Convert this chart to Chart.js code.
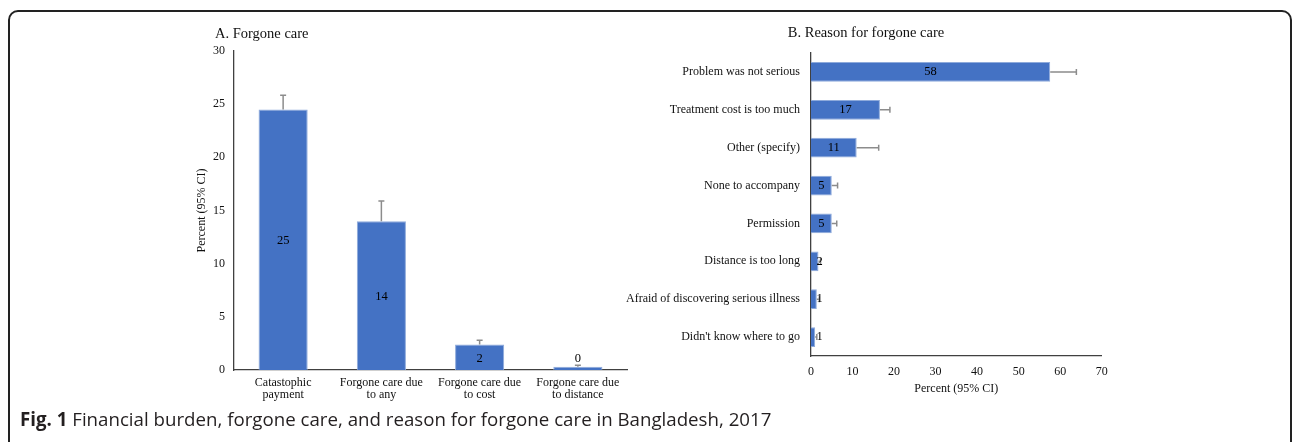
<!DOCTYPE html>
<html><head><meta charset="utf-8">
<script src="https://cdn.jsdelivr.net/npm/chart.js@4.4.1/dist/chart.umd.min.js"></script>
<style>
html,body{margin:0;padding:0;background:#fff;width:1292px;height:442px;overflow:hidden;position:relative}
#frame{position:absolute;left:8px;top:10px;width:1284px;height:480px;border:2px solid #222;border-radius:10px;box-sizing:border-box}
#ca{position:absolute;left:190px;top:0}
#cb{position:absolute;left:600px;top:0}
#cap{position:absolute;left:20px;top:407px;font-family:"Open Sans";font-size:17px;line-height:24px;color:#231f20;white-space:nowrap}
</style></head><body>
<div id="frame"></div>
<canvas id="ca" width="450" height="418"></canvas>
<canvas id="cb" width="532" height="418"></canvas>
<div id="cap"><b>Fig. 1</b> Financial burden, forgone care, and reason for forgone care in Bangladesh, 2017</div>
<script>
// ---- data ----
const categoriesA = [["Catastophic","payment"],["Forgone care due","to any"],["Forgone care due","to cost"],["Forgone care due","to distance"]];
const valuesA = [24.5, 14.0, 2.4, 0.3];
const upperA = [25.85, 15.9, 2.8, 0.45];
const yTicksA = [0, 5, 10, 15, 20, 25, 30];

const categoriesB = ["Problem was not serious","Treatment cost is too much","Other (specify)","None to accompany","Permission","Distance is too long","Afraid of discovering serious illness","Didn't know where to go"];
const valuesB = [57.6, 16.6, 11.0, 5.0, 5.0, 1.8, 1.4, 1.0];
const upperB = [63.9, 19.0, 16.3, 6.4, 6.2, 2.3, 2.0, 1.4];
const xTicksB = [0, 10, 20, 30, 40, 50, 60, 70];

// ---- styling ----
const SERIF = '"Liberation Serif", "Times New Roman", serif';
const TXT = '#111';
const BAR = '#4472C4';
const BAR_EDGE = '#8eaadb';
const AXIS = '#404040';

// caption fit
(function(){
  const cap = document.getElementById('cap');
  const w = cap.getBoundingClientRect().width;
  cap.style.fontSize = (17 * 752 / w) + 'px';
})();

const overlay = {
  id: 'overlay',
  afterDatasetsDraw(chart, args, opts) {
    const ctx = chart.ctx;
    const meta = chart.getDatasetMeta(0);
    const horiz = chart.options.indexAxis === 'y';
    const vScale = horiz ? chart.scales.x : chart.scales.y;
    const data = chart.data.datasets[0].data;
    ctx.save();
    ctx.strokeStyle = '#8c8c8c';
    ctx.lineWidth = 1.5;
    opts.upper.forEach((u, i) => {
      const el = meta.data[i];
      const p0 = vScale.getPixelForValue(data[i]);
      const p1 = vScale.getPixelForValue(u);
      ctx.beginPath();
      if (horiz) {
        ctx.moveTo(p0, el.y); ctx.lineTo(p1, el.y);
        ctx.moveTo(p1, el.y - 3); ctx.lineTo(p1, el.y + 3);
      } else {
        ctx.moveTo(el.x, p0); ctx.lineTo(el.x, p1);
        ctx.moveTo(el.x - 3, p1); ctx.lineTo(el.x + 3, p1);
      }
      ctx.stroke();
    });
    ctx.fillStyle = '#000';
    ctx.font = '12.5px ' + SERIF;
    ctx.textAlign = 'center';
    ctx.textBaseline = 'middle';
    data.forEach((v, i) => {
      const el = meta.data[i];
      const t = String(Math.round(v));
      if (horiz) {
        const x = Math.max((el.x + el.base) / 2, el.base + 8.5);
        ctx.fillText(t, x, el.y);
      } else {
        const y = Math.min((el.y + el.base) / 2, el.base - 12);
        ctx.fillText(t, el.x, y + 1);
      }
    });
    ctx.restore();
  },
  afterDraw(chart, args, opts) {
    const ctx = chart.ctx;
    ctx.save();
    ctx.fillStyle = TXT;
    ctx.font = '14.5px ' + SERIF;
    ctx.textAlign = opts.align;
    ctx.textBaseline = 'middle';
    ctx.fillText(opts.title, opts.tx, opts.ty);
    ctx.restore();
  }
};

function fixW(w) { return s => { s.width = w; }; }
function fixH(h) { return s => { s.height = h; }; }

new Chart(document.getElementById('ca'), {
  type: 'bar',
  data: {
    labels: categoriesA,
    datasets: [{ data: valuesA, backgroundColor: BAR, borderColor: BAR_EDGE, borderWidth: 1, barPercentage: 0.5, categoryPercentage: 1 }]
  },
  options: {
    responsive: false, animation: false,
    layout: { padding: { top: 51, right: 13, left: 0, bottom: 0 } },
    plugins: {
      legend: { display: false }, tooltip: { enabled: false },
      overlay: { upper: upperA, title: 'A. Forgone care', tx: 25, ty: 34, align: 'left' }
    },
    scales: {
      y: {
        min: 0, max: 30,
        afterBuildTicks: s => { s.ticks = yTicksA.map(v => ({ value: v })); },
        afterFit: fixW(44),
        grid: { display: false, drawTicks: false },
        border: { display: true, color: AXIS, width: 1.3 },
        ticks: { padding: 9, color: TXT, font: { family: SERIF, size: 12 } },
        title: { display: true, text: 'Percent (95% CI)', color: TXT, font: { family: SERIF, size: 12 }, padding: 4.8 }
      },
      x: {
        afterFit: fixH(48),
        grid: { display: false, drawTicks: false },
        border: { display: true, color: AXIS, width: 1.3 },
        ticks: { padding: 6.5, color: TXT, maxRotation: 0, autoSkip: false, font: { family: SERIF, size: 12, lineHeight: 1.0 } }
      }
    }
  },
  plugins: [overlay]
});

new Chart(document.getElementById('cb'), {
  type: 'bar',
  data: {
    labels: categoriesB,
    datasets: [{ data: valuesB, backgroundColor: BAR, borderColor: BAR_EDGE, borderWidth: 1, barPercentage: 0.52, categoryPercentage: 1 }]
  },
  options: {
    indexAxis: 'y',
    responsive: false, animation: false,
    layout: { padding: { top: 53, right: 30.3, left: 0, bottom: 0 } },
    plugins: {
      legend: { display: false }, tooltip: { enabled: false },
      overlay: { upper: upperB, title: 'B. Reason for forgone care', tx: 266, ty: 33, align: 'center' }
    },
    scales: {
      x: {
        min: 0, max: 70,
        afterBuildTicks: s => { s.ticks = xTicksB.map(v => ({ value: v })); },
        afterFit: fixH(62),
        grid: { display: false, drawTicks: false },
        border: { display: true, color: AXIS, width: 1.3 },
        ticks: { padding: 8.5, color: TXT, font: { family: SERIF, size: 12 } },
        title: { display: true, text: 'Percent (95% CI)', color: TXT, font: { family: SERIF, size: 12 }, padding: 22 }
      },
      y: {
        afterFit: fixW(211),
        grid: { display: false, drawTicks: false },
        border: { display: true, color: AXIS, width: 1.3 },
        ticks: { padding: 11, color: TXT, autoSkip: false, font: { family: SERIF, size: 12 } }
      }
    }
  },
  plugins: [overlay]
});
</script>
</body></html>
